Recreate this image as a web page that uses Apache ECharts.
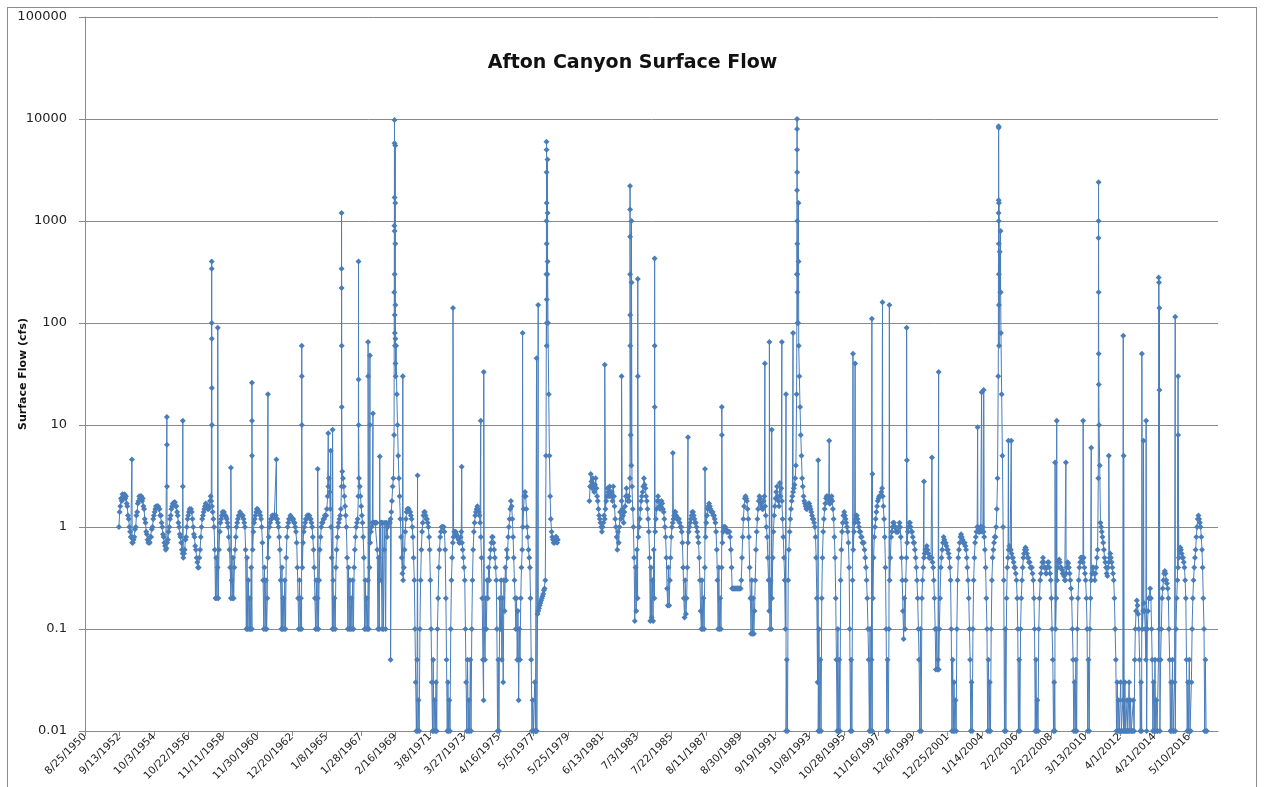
<!DOCTYPE html>
<html><head><meta charset="utf-8">
<script src="https://cdn.jsdelivr.net/npm/echarts@6/dist/echarts.min.js"></script>
<style>
html,body{margin:0;padding:0;background:#fff}
#wrap{position:relative;width:1265px;height:787px;overflow:hidden}
#c{width:1265px;height:787px}
#frame{position:absolute;left:7px;top:7px;width:1250px;height:800px;border:1px solid #8c8c8c;box-sizing:border-box;pointer-events:none}
</style>
</head><body><div id="wrap"><div id="c"></div><div id="frame"></div></div>
<script>
// ---------------- data ----------------
const chartTitle = 'Afton Canyon Surface Flow';
const yAxisTitle = 'Surface Flow (cfs)';
const xOrigin = [1950, 8, 25];          // first date tick (8/25/1950)
const xTickStepDays = 750;               // date tick spacing
const xEndDays = 24630;                  // axis end
const yMin = 0.01, yMax = 100000;

// semi-monthly readings (1st and 16th of each month); one row per year
const era1Start = [1952, 9];
const era1Rows = [
  [1.0,1.4,1.6,1.9,1.8,2.1,1.9,2.0],
  [2.1,1.9,2.0,1.7,1.6,1.3,1.2,1.0,0.9,0.8,0.8,0.7,0.7,0.75,0.8,0.95,1.0,1.3,1.4,1.7,1.8,2.0,1.9,2.0],
  [2.0,1.8,1.9,1.6,1.5,1.2,1.1,0.9,0.85,0.75,0.7,0.72,0.7,0.8,0.8,0.95,1.0,1.2,1.3,1.4,1.5,1.6,1.55,1.6],
  [1.6,1.5,1.5,1.3,1.3,1.1,1.0,0.85,0.8,0.7,0.65,0.6,0.62,0.7,0.75,0.9,1.0,1.2,1.3,1.5,1.6,1.7,1.65,1.75],
  [1.75,1.6,1.6,1.4,1.3,1.1,1.0,0.85,0.8,0.7,0.6,0.55,0.5,0.55,0.6,0.75,0.8,1.0,1.2,1.3,1.4,1.5,1.45,1.5],
  [1.4,1.2,1.0,0.85,0.8,0.65,0.6,0.5,0.45,0.4,0.4,0.5,0.6,0.8,1.0,1.2,1.3,1.4,1.5,1.6,1.7,1.65,1.6,1.5],
  [1.5,1.6,1.8,2.0,1.8,1.6,1.4,1.2,1.0,0.6,0.2,0.5,0.2,0.4,0.2,0.6,0.9,1.1,1.2,1.3,1.4,1.35,1.4,1.3],
  [1.3,1.25,1.2,1.1,1.0,0.8,0.6,0.4,0.2,0.3,0.2,0.5,0.2,0.4,0.6,0.8,1.0,1.1,1.2,1.3,1.3,1.4,1.35,1.3],
  [1.3,1.3,1.2,1.1,1.0,0.6,0.1,0.5,0.1,0.3,0.1,0.2,0.1,0.4,0.1,0.6,0.9,1.1,1.2,1.3,1.4,1.5,1.5,1.4],
  [1.4,1.4,1.3,1.2,1.0,0.7,0.3,0.1,0.4,0.1,0.3,0.1,0.2,0.5,0.8,1.0,1.1,1.2,1.2,1.3,1.3,1.25,1.3,1.3],
  [1.3,1.2,1.2,1.1,1.0,0.8,0.6,0.3,0.1,0.4,0.1,0.2,0.1,0.3,0.1,0.5,0.8,1.0,1.1,1.2,1.2,1.3,1.25,1.2],
  [1.2,1.2,1.1,1.1,1.0,0.9,0.7,0.4,0.2,0.1,0.3,0.1,0.2,0.1,0.4,0.7,0.9,1.0,1.1,1.2,1.2,1.3,1.3,1.3],
  [1.3,1.2,1.2,1.1,1.0,0.8,0.6,0.4,0.2,0.1,0.3,0.1,0.2,0.1,0.3,0.6,0.8,1.0,1.1,1.1,1.2,1.2,1.3,1.3],
  [1.3,1.5,2.0,2.5,3.0,2.2,1.5,1.0,0.5,0.1,0.3,0.1,0.2,0.1,0.4,0.6,0.8,1.0,1.1,1.2,1.3,1.5,2.5,3.5],
  [3.0,2.5,2.0,1.6,1.3,1.0,0.5,0.1,0.4,0.1,0.3,0.1,0.2,0.1,0.3,0.1,0.4,0.6,0.8,1.0,1.1,1.2,2.0,3.0],
  [2.5,2.0,1.6,1.3,1.1,0.8,0.5,0.1,0.3,0.1,0.2,0.1,0.3,0.1,0.4,0.7,0.9,1.0,1.1,1.1,1.1,1.1,1.1,1.1],
  [1.1,0.6,0.1,0.5,0.1,0.3,1.1,1.1,0.1,1.1,0.1,0.6,1.1,0.1,1.1,0.8,1.0,1.1,1.1,1.1,1.2,1.4,1.8,2.5],
  [3,8,80,40,60,20,10,5,3,2,1.2,0.8,0.5,0.35,0.3,0.4,0.6,0.9,1.2,1.4,1.5,1.5,1.5,1.4],
  [1.4,1.3,1.2,1.0,0.8,0.5,0.3,0.1,0.03,0.01,0.05,0.01,0.02,0.01,0.1,0.3,0.6,0.9,1.1,1.3,1.4,1.4,1.3,1.2],
  [1.2,1.1,1.0,0.8,0.6,0.3,0.1,0.03,0.01,0.05,0.01,0.02,0.01,0.03,0.01,0.1,0.2,0.4,0.6,0.8,0.9,1.0,1.0,1.0],
  [1.0,0.9,0.6,0.2,0.05,0.01,0.03,0.01,0.02,0.01,0.1,0.3,0.5,0.7,0.8,0.9,0.9,0.9,0.85,0.8,0.8,0.75,0.7,0.7],
  [0.8,0.9,0.7,0.6,0.5,0.4,0.3,0.1,0.03,0.01,0.05,0.01,0.02,0.01,0.05,0.01,0.1,0.3,0.6,0.9,1.1,1.3,1.4,1.5],
  [1.6,1.5,1.4,1.3,1.1,0.8,0.5,0.2,0.05,0.02,0.1,0.05,0.2,0.1,0.3,0.2,0.4,0.3,0.5,0.6,0.7,0.8,0.8,0.7],
  [0.6,0.5,0.4,0.3,0.1,0.01,0.05,0.01,0.2,0.1,0.3,0.05,0.2,0.03,0.3,0.15,0.4,0.3,0.6,0.5,0.8,1.0,1.2,1.5],
  [1.8,1.6,1.2,0.8,0.5,0.3,0.2,0.1,0.2,0.05,0.15,0.02,0.1,0.05,0.2,0.4,0.6,1.0,1.5,2.0,2.2,2.0,1.5,1.0],
  [0.8,0.6,0.5,0.4,0.2,0.05,0.01,0.02,0.01,0.01,0.03,0.01,0.01,0.01,0.14,0.15,0.16,0.17,0.18,0.19,0.2,0.21,0.22,0.24],
  [0.25,0.3,5,60,300,100,20,5,2,1.2,0.9,0.8,0.75,0.7,0.7,0.75,0.8,0.8,0.7,0.75]
];

const era2Start = [1980, 9];
const era2Rows = [
  [1.8,2.5,3.3,2.8,2.4,3.0,2.6,2.2],
  [2.6,3.0,2.4,2.0,1.8,1.5,1.3,1.2,1.1,1.0,0.9,1.0,1.1,1.3,1.2,1.5,1.8,2.0,2.4,2.2,2.0,2.5,2.2,2.0],
  [2.2,1.8,2.5,2.0,1.6,1.2,1.0,0.8,0.6,0.9,0.7,1.0,1.4,1.2,1.8,1.5,1.3,1.1,1.4,1.6,2.0,2.4,2.0,1.8],
  [2.0,1.8,3.0,8,4,2.5,1.5,1.0,0.5,0.12,0.4,0.15,0.6,0.2,0.8,1.0,1.2,1.5,1.8,2.0,2.2,2.5,3.0,2.6],
  [2.4,2.0,1.8,1.5,1.2,0.9,0.5,0.12,0.4,0.13,0.3,0.12,0.6,0.2,0.9,1.2,1.5,1.8,2.0,1.8,1.6,1.5,1.6,1.8],
  [1.7,1.5,1.4,1.2,1.0,0.8,0.5,0.25,0.17,0.4,0.17,0.3,0.5,0.8,1.0,1.1,1.2,1.3,1.4,1.4,1.3,1.2,1.2,1.2],
  [1.2,1.1,1.0,1.0,0.9,0.7,0.4,0.2,0.13,0.3,0.14,0.2,0.4,0.7,0.9,1.0,1.1,1.2,1.3,1.4,1.4,1.3,1.2,1.1],
  [1.1,1.0,0.9,0.8,0.7,0.5,0.3,0.15,0.1,0.3,0.1,0.2,0.1,0.4,0.8,1.1,1.3,1.5,1.6,1.7,1.6,1.5,1.4,1.4],
  [1.4,1.3,1.3,1.2,1.1,0.9,0.6,0.3,0.1,0.4,0.1,0.2,0.1,0.4,0.7,0.9,1.0,1.0,1.0,0.95,0.9,0.9,0.9,0.9],
  [0.9,0.8,0.6,0.4,0.25,0.25,0.25,0.25,0.25,0.25,0.25,0.25,0.25,0.25,0.25,0.25,0.25,0.3,0.5,0.8,1.2,1.6,1.9,2.0],
  [1.9,1.8,1.5,1.2,0.8,0.4,0.2,0.09,0.3,0.09,0.2,0.09,0.15,0.3,0.6,0.9,1.2,1.5,1.8,2.0,1.9,1.7,1.6,1.5],
  [1.5,1.8,2.0,1.6,1.3,1.0,0.8,0.5,0.3,0.15,0.1,0.3,0.1,0.2,0.5,0.9,1.3,1.6,1.9,2.2,2.5,2.0,1.8,1.6],
  [2.7,2.0,2.4,1.8,1.2,0.8,0.5,0.3,0.1,0.01,0.05,0.01,0.3,0.6,0.9,1.2,1.5,1.8,2.0,2.2,2.4,2.6,3.0,4.0],
  [20,300,100,60,30,15,8,5,3,2.5,2.0,1.8,1.7,1.6,1.5,1.5,1.6,1.7,1.7,1.6,1.5,1.4,1.3,1.2],
  [1.2,1.1,1.0,0.8,0.5,0.2,0.03,0.01,0.1,0.01,0.05,0.01,0.2,0.5,0.9,1.2,1.5,1.7,1.9,2.0,2.0,1.9,1.8,1.7],
  [1.7,1.9,2.0,1.8,1.5,1.2,0.8,0.5,0.2,0.05,0.01,0.1,0.01,0.05,0.01,0.3,0.6,0.9,1.1,1.3,1.4,1.3,1.2,1.1],
  [1.0,0.9,0.7,0.4,0.1,0.01,0.05,0.01,0.3,0.6,0.9,1.1,1.2,1.3,1.3,1.2,1.1,1.0,0.9,0.9,0.8,0.8,0.7,0.7],
  [0.7,0.6,0.5,0.4,0.3,0.2,0.1,0.05,0.01,0.1,0.01,0.05,0.01,0.2,0.5,0.8,1.0,1.2,1.4,1.6,1.8,1.9,2.0,2.0],
  [2.0,2.2,2.4,2.0,1.6,1.2,0.8,0.4,0.1,0.01,0.05,0.01,0.1,0.3,0.5,0.8,0.9,1.0,1.1,1.1,1.0,1.0,0.9,0.9],
  [0.9,0.9,1.0,1.1,1.0,0.8,0.5,0.3,0.15,0.08,0.2,0.1,0.3,0.5,0.7,0.9,1.0,1.1,1.1,1.0,0.9,0.9,0.8,0.7],
  [0.7,0.6,0.5,0.4,0.3,0.2,0.1,0.05,0.01,0.1,0.01,0.2,0.3,0.4,0.5,0.55,0.6,0.6,0.65,0.6,0.55,0.5,0.5,0.5],
  [0.5,0.5,0.45,0.4,0.3,0.2,0.1,0.04,0.1,0.04,0.05,0.04,0.1,0.2,0.4,0.5,0.6,0.7,0.8,0.75,0.7,0.7,0.65,0.6],
  [0.6,0.55,0.5,0.4,0.3,0.1,0.01,0.05,0.01,0.03,0.01,0.02,0.01,0.1,0.3,0.5,0.6,0.7,0.8,0.85,0.8,0.75,0.7,0.7],
  [0.7,0.65,0.6,0.5,0.4,0.3,0.2,0.1,0.05,0.01,0.03,0.01,0.1,0.3,0.5,0.7,0.8,0.9,1.0,1.0,0.9,0.9,0.9,1.0],
  [1.0,0.9,1.0,0.9,0.8,0.6,0.4,0.2,0.1,0.01,0.05,0.01,0.03,0.01,0.1,0.3,0.5,0.6,0.7,0.8,0.8,1.0,1.5,3.0],
  [30,1500,500,200,80,20,5,1.0,0.3,0.01,0.1,0.01,0.2,0.4,0.5,0.6,0.65,0.6,0.6,0.55,0.5,0.5,0.45,0.4],
  [0.4,0.35,0.3,0.2,0.1,0.01,0.05,0.01,0.1,0.2,0.3,0.4,0.5,0.55,0.6,0.63,0.6,0.55,0.5,0.5,0.45,0.45,0.4,0.4],
  [0.4,0.35,0.3,0.2,0.1,0.01,0.05,0.01,0.02,0.01,0.1,0.2,0.3,0.35,0.4,0.45,0.5,0.45,0.4,0.4,0.35,0.35,0.4,0.45],
  [0.45,0.4,0.35,0.3,0.2,0.1,0.05,0.01,0.03,0.01,0.1,0.2,0.3,0.4,0.45,0.48,0.45,0.4,0.4,0.38,0.35,0.35,0.33,0.3],
  [0.3,0.35,0.4,0.45,0.44,0.4,0.35,0.3,0.25,0.2,0.1,0.05,0.01,0.03,0.01,0.05,0.01,0.1,0.2,0.3,0.4,0.45,0.5,0.5],
  [0.5,0.45,0.5,0.4,0.35,0.3,0.2,0.1,0.01,0.05,0.01,0.1,0.2,0.3,0.35,0.4,0.4,0.35,0.3,0.35,0.4,0.5,0.6,3.0],
  [10,4,1.1,1.0,0.9,0.8,0.7,0.6,0.5,0.45,0.4,0.35,0.33,0.4,0.45,0.5,0.55,0.5,0.45,0.4,0.35,0.3,0.2,0.1],
  [0.05,0.01,0.03,0.01,0.02,0.01,0.01,0.03,0.01,0.01,0.02,0.01,0.01,0.03,0.01,0.01,0.02,0.01,0.01,0.03,0.01,0.02,0.01,0.01],
  [0.01,0.02,0.01,0.05,0.1,0.15,0.19,0.17,0.14,0.1,0.05,0.01,0.03,0.01,0.1,0.15,0.18,0.15,0.1,0.05,0.01,0.1,0.15,0.2],
  [0.2,0.25,0.2,0.1,0.05,0.01,0.03,0.01,0.05,0.01,0.02,0.01,0.01,0.05,0.1,0.01,0.05,0.1,0.2,0.25,0.3,0.35,0.37,0.35],
  [0.3,0.28,0.25,0.2,0.1,0.05,0.01,0.03,0.01,0.05,0.01,0.01,0.03,0.01,0.1,0.2,0.3,0.4,0.5,0.6,0.63,0.6,0.55,0.5],
  [0.5,0.45,0.4,0.3,0.2,0.05,0.01,0.03,0.01,0.05,0.01,0.01,0.03,0.1,0.2,0.3,0.4,0.5,0.6,0.8,1.0,1.2,1.3,1.2],
  [1.1,1.0,0.8,0.6,0.4,0.2,0.1,0.01,0.05,0.01,0.01]
];

// storm-day readings between the semi-monthly values
const peakDates = [
  '1953-06-10','1955-07-10','1955-07-11','1955-07-12','1956-06-20','1956-06-21',
  '1958-03-10','1958-03-11','1958-03-12','1958-03-13','1958-03-14','1958-03-15','1958-07-20',
  '1959-05-01','1960-08-01','1960-08-02','1960-08-03','1961-07-15','1962-01-15',
  '1963-07-20','1963-07-21','1963-07-22','1964-07-01','1965-02-15','1965-04-10','1965-05-20',
  '1965-12-01','1965-12-02','1965-12-03','1965-12-04','1965-12-05',
  '1966-12-05','1966-12-06','1966-12-07','1967-07-01','1967-07-02','1967-08-10','1967-08-11','1967-10-15',
  '1968-03-10','1968-11-01',
  '1969-01-20','1969-01-22','1969-01-25','1969-01-26','1969-01-27','1969-01-28','1969-01-29','1969-01-30',
  '1969-02-05','1969-02-10','1969-02-11','1969-02-12','1969-02-13','1969-02-14','1969-02-20','1969-07-25',
  '1970-06-10','1972-07-20','1973-01-25','1974-03-15','1974-05-20','1976-09-10','1977-07-10','1977-08-15',
  '1978-02-10','1978-02-11','1978-02-12','1978-02-13','1978-02-14','1978-02-15','1978-02-16','1978-02-17','1978-02-18',
  '1978-03-05','1978-03-06','1978-03-07',
  '1981-08-01','1982-08-01','1983-02-01','1983-02-02','1983-02-03','1983-02-04','1983-02-05','1983-02-06',
  '1983-03-05','1983-03-06','1983-07-20','1983-07-21','1984-07-20','1984-07-21','1984-07-22',
  '1985-08-20','1986-07-15','1987-07-20','1988-07-20','1988-07-21',
  '1991-02-10','1991-05-20','1991-07-10','1992-02-15','1992-05-15','1992-10-15',
  '1993-01-08','1993-01-09','1993-01-10','1993-01-11','1993-01-12','1993-01-13','1993-01-14','1993-01-16','1993-01-18','1993-01-20',
  '1993-02-10','1993-02-12','1994-04-15','1994-12-10','1996-05-10','1996-06-25',
  '1997-06-25','1997-07-05','1998-02-10','1998-07-10','1999-07-20','1999-07-25',
  '2000-07-30','2001-01-20','2001-06-15','2003-10-10','2004-01-05','2004-02-20',
  '2005-01-08','2005-01-09','2005-01-10','2005-01-11','2005-01-12','2005-01-13','2005-01-14','2005-01-16','2005-01-20',
  '2005-02-20','2005-02-22','2005-08-10','2005-10-10',
  '2008-05-20','2008-06-25','2009-01-10','2010-01-20','2010-07-15',
  '2010-12-20','2010-12-21','2010-12-22','2010-12-23','2010-12-24','2010-12-26',
  '2011-08-01','2012-06-10','2012-06-20','2013-07-20','2013-08-25','2013-10-20',
  '2014-07-20','2014-07-28','2014-08-05','2014-08-06','2015-07-15','2015-09-15','2015-09-16'
];
const peakValues = [
  4.6,12,6.4,2.5,11,2.5,
  400,340,100,70,23,10,90,
  3.8,26,11,5,20,4.6,
  60,30,10,3.7,8.3,5.6,9,
  1200,340,220,60,15,
  400,28,10,65,30,48,10,13,
  4.9,0.05,
  200,900,9800,5800,1700,800,300,120,
  60,5500,1500,600,150,70,30,30,
  3.2,140,3.9,11,33,80,45,150,
  300,1000,6000,5000,3000,1500,600,170,100,
  4000,1200,400,
  39,30,2200,1300,700,300,120,60,
  1000,250,270,30,430,60,15,
  5.3,7.6,3.7,15,8,
  40,65,9,65,20,80,
  300,2000,10000,8000,5000,3000,1000,600,200,100,
  1500,400,4.5,7,50,40,
  110,3.3,160,150,90,4.5,
  2.8,4.8,33,9.5,21,22,
  1200,8500,8200,1600,1000,600,300,150,60,
  800,200,7,7,
  4.3,11,4.3,11,6,
  680,2400,1000,200,50,25,
  5,75,5,50,7,11,
  280,250,140,22,115,30,8
];

// ---------------- build ----------------
const DAY = 86400000;
const ORIGIN = Date.UTC(xOrigin[0], xOrigin[1] - 1, xOrigin[2]);
const dayOf = (y, m, d) => (Date.UTC(y, m - 1, d) - ORIGIN) / DAY;

function buildEra(start, rows) {
  const pts = [];
  rows.forEach((row, k) => {
    const y = start[0] + k;
    const m0 = k === 0 ? start[1] : 1;
    row.forEach((v, i) => {
      pts.push([dayOf(y, m0 + Math.floor(i / 2), i % 2 ? 16 : 1), v]);
    });
  });
  return pts;
}
const era1 = buildEra(era1Start, era1Rows);
const era2 = buildEra(era2Start, era2Rows);
peakDates.forEach((s, i) => {
  const [y, m, d] = s.split('-').map(Number);
  (y < 1980 ? era1 : era2).push([dayOf(y, m, d), peakValues[i]]);
});
era1.sort((a, b) => a[0] - b[0]);
era2.sort((a, b) => a[0] - b[0]);

const BLUE = '#4A7EBB';
const GRID = '#8a8a8a';
const FONT = "'DejaVu Sans', sans-serif";

const lineSeries = (data) => ({
  type: 'line', data, symbol: 'diamond', symbolSize: 6,
  lineStyle: { color: BLUE, width: 1 },
  itemStyle: { color: BLUE },
  showSymbol: true, showAllSymbol: true, animation: false, clip: true
});

const chart = echarts.init(document.getElementById('c'));
chart.setOption({
  animation: false,
  backgroundColor: '#fff',
  title: {
    text: chartTitle, left: 'center', top: 49,
    textStyle: { fontFamily: FONT, fontSize: 19, fontWeight: 'bold', color: '#111' }
  },
  grid: { left: 85, right: 47, top: 17, bottom: 56, outerBoundsMode: 'none', containLabel: false },
  xAxis: {
    type: 'value', min: 0, max: xEndDays, interval: xTickStepDays,
    splitLine: { show: false },
    axisLine: { show: true, lineStyle: { color: GRID } },
    axisTick: { show: true, length: 5, lineStyle: { color: GRID } },
    axisLabel: {
      rotate: 45, fontSize: 10.5, fontFamily: FONT, color: '#222', margin: 4,
      showMaxLabel: false,
      formatter: (v) => {
        if (Math.round(v) % xTickStepDays !== 0) return '';
        const dt = new Date(ORIGIN + v * DAY);
        return (dt.getUTCMonth() + 1) + '/' + dt.getUTCDate() + '/' + dt.getUTCFullYear();
      }
    }
  },
  yAxis: {
    type: 'log', logBase: 10, min: yMin, max: yMax,
    name: yAxisTitle, nameLocation: 'middle', nameRotate: 90, nameGap: 56,
    nameMoveOverlap: false,
    nameTextStyle: { fontFamily: FONT, fontSize: 11, fontWeight: 'bold', color: '#111' },
    axisLine: { show: true, lineStyle: { color: GRID } },
    axisTick: { show: true, length: 6, lineStyle: { color: GRID } },
    splitLine: { show: true, lineStyle: { color: GRID, width: 1 } },
    axisLabel: {
      fontSize: 13, fontFamily: FONT, color: '#222', margin: 18,
      formatter: (v) => String(parseFloat(Number(v).toPrecision(6)))
    }
  },
  series: [lineSeries(era1), lineSeries(era2)]
});
</script>
</body></html>
